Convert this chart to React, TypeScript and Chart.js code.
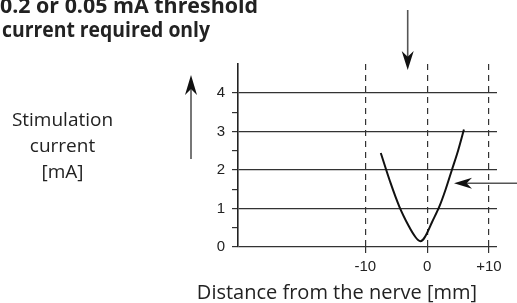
import React, { useEffect, useRef } from "react";
import { Chart, registerables } from "chart.js";

Chart.register(...registerables);

const distances = [-7.5, -6.0, -4.5, -3.0, -1.9, -1.1, -0.4, 0.8, 2.0, 3.0, 4.0, 5.0, 5.95];
const currents = [2.44, 1.7, 1.05, 0.55, 0.26, 0.15, 0.25, 0.65, 1.06, 1.5, 2.0, 2.5, 3.05];
const xTickValues = [-10, 0, 10];
const xMin = -30.6;
const xMax = 11.3;
const yMin = 0;
const yMax = 4.75;
const titleLines = ["0.2 or 0.05 mA threshold", "current required only"];
const yTitleLines = ["Stimulation", "current", "[mA]"];
const xTitle = "Distance from the nerve [mm]";

function drawArrow(ctx: CanvasRenderingContext2D, x1: number, y1: number, x2: number, y2: number, headLen: number, halfW: number) {
  const ang = Math.atan2(y2 - y1, x2 - x1);
  const cos = Math.cos(ang), sin = Math.sin(ang);
  ctx.save();
  ctx.strokeStyle = "#555";
  ctx.lineWidth = 1.6;
  ctx.beginPath();
  ctx.moveTo(x1, y1);
  ctx.lineTo(x2 - cos * headLen * 0.6, y2 - sin * headLen * 0.6);
  ctx.stroke();
  const bx = x2 - cos * headLen, by = y2 - sin * headLen;
  const nx = -sin, ny = cos;
  const ix = x2 - cos * headLen * 0.7, iy = y2 - sin * headLen * 0.7;
  ctx.fillStyle = "#111";
  ctx.beginPath();
  ctx.moveTo(x2, y2);
  ctx.lineTo(bx + nx * halfW, by + ny * halfW);
  ctx.lineTo(ix, iy);
  ctx.lineTo(bx - nx * halfW, by - ny * halfW);
  ctx.closePath();
  ctx.fill();
  ctx.restore();
}

const annotations = {
  id: "annotations",
  afterDraw(chart: any) {
    const ctx: CanvasRenderingContext2D = chart.ctx;
    ctx.save();
    ctx.fillStyle = "#222";
    ctx.textAlign = "left";
    ctx.textBaseline = "alphabetic";
    ctx.font = "bold 22px 'Open Sans'";
    ctx.fillText(titleLines[0], 0, 13, 258);
    ctx.fillText(titleLines[1], 2, 37, 208);

    ctx.font = "19px 'Open Sans'";
    ctx.textAlign = "center";
    ctx.fillText(yTitleLines[0], 62.5, 126);
    ctx.fillText(yTitleLines[1], 62.5, 152);
    ctx.fillText(yTitleLines[2], 62.5, 178);

    ctx.font = "20px 'Open Sans'";
    ctx.fillText(xTitle, 337, 299);
    ctx.restore();

    drawArrow(ctx, 191, 159, 191, 75, 20, 6);
    drawArrow(ctx, 407.7, 10, 407.7, 70, 19, 6);
    drawArrow(ctx, 517, 183.3, 454, 183.3, 18, 5.5);
  },
};

export default function App() {
  const ref = useRef<HTMLCanvasElement>(null);
  useEffect(() => {
    document.body.style.margin = "0";
    const chart = new Chart(ref.current!, {
      type: "line",
      data: {
        datasets: [
          {
            data: distances.map((d, i) => ({ x: d, y: currents[i] })),
            borderColor: "#111",
            borderWidth: 2,
            pointRadius: 0,
            tension: 0.35,
            fill: false,
          },
        ],
      },
      options: {
        animation: false,
        responsive: false,
        devicePixelRatio: 1,
        layout: { padding: { left: 0, top: 64, right: 20, bottom: 0 } },
        plugins: { legend: { display: false }, tooltip: { enabled: false } },
        scales: {
          x: {
            type: "linear",
            min: xMin,
            max: xMax,
            afterBuildTicks: (s: any) => {
              s.ticks = xTickValues.map((v) => ({ value: v }));
            },
            afterFit: (s: any) => {
              s.height = 56;
            },
            ticks: {
              autoSkip: false,
              maxRotation: 0,
              padding: 3,
              color: "#222",
              font: { family: "'Liberation Sans'", size: 15 },
              callback: (v: any) => (v > 0 ? "+" + v : String(v)),
            },
            grid: {
              color: "#333",
              lineWidth: 1.2,
              tickLength: 8,
              tickColor: "#333",
              tickWidth: 1.2,
              tickBorderDash: [6, 5],
            },
            border: { display: false, dash: [6, 5] },
          },
          y: {
            type: "linear",
            min: yMin,
            max: yMax,
            afterFit: (s: any) => {
              s.width = 238;
            },
            ticks: {
              stepSize: 0.5,
              autoSkip: false,
              padding: 7,
              color: "#222",
              font: { family: "'Liberation Sans'", size: 15 },
              callback: (v: any) => (Number.isInteger(v) ? String(v) : ""),
            },
            grid: {
              color: (c: any) => (c.tick && Number.isInteger(c.tick.value) ? "#333" : "rgba(0,0,0,0)"),
              tickColor: (c: any) => (c.tick && Math.abs(c.tick.value * 2 - Math.round(c.tick.value * 2)) < 1e-6 ? "#333" : "rgba(0,0,0,0)"),
              lineWidth: 1.2,
              tickLength: 6,
            },
            border: { display: true, color: "#222", width: 1.6 },
          },
        },
      },
      plugins: [annotations],
    });
    return () => chart.destroy();
  }, []);
  return (
    <div style={{ position: "absolute", left: 0, top: 0, width: 517, height: 303 }}>
      <canvas ref={ref} width={517} height={303} />
    </div>
  );
}
